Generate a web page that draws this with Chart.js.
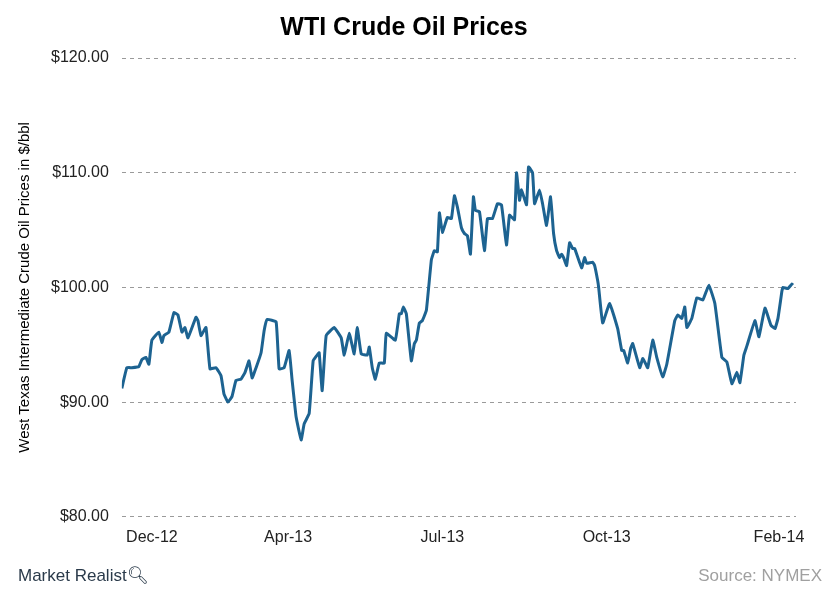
<!DOCTYPE html>
<html>
<head>
<meta charset="utf-8">
<script src="https://cdn.jsdelivr.net/npm/chart.js@4.4.1/dist/chart.umd.min.js"></script>
<style>
  body { margin: 0; background: #fff; font-family: "Liberation Sans", Arial, sans-serif; }
  #wrap { position: relative; width: 840px; height: 600px; }
  .foot-l { position: absolute; left: 18px; top: 565px; font-size: 17px; color: #2a3a4a; }
  .foot-r { position: absolute; right: 18px; top: 566px; font-size: 17px; color: #a0a0a0; }
</style>
</head>
<body>
<div id="wrap">
  <canvas id="c" width="840" height="600"></canvas>
  <div class="foot-l">Market Realist&#x1F50D;&#xFE0E;</div>
  <div class="foot-r">Source: NYMEX</div>
</div>
<script>
// time index (roughly trading-day position across Dec-12 .. Feb-14)
const timeIdx = [0,5,10,17,20,24,27,30,37,40,42,47,52,56,60,63,66,74,76,79,84,88,94,99,102,106,110,114,119,123,127,130,134,139,142,145,154,157,162,167,170,174,179,182,187,191,195,197,200,204,212,219,222,227,
  232,235,239,245,247,250,253,257,262,264,273,277,279,281,284,289,292,294,297,300,304,309,312,315,317,320,325,329,332,335,339,342,345,348,351,353,357,362,365,370,
  375,379,384,387,392,394,397,399,404,406,410,412,417,420,424,428,431,434,437,439,441,444,447,450,452,459,462,464,470,472,475,476,480,487,495,499,501,505,508,510,
  517,520,522,525,530,534,540,544,552,555,559,562,564,569,574,580,586,592,599,604,609,614,617,621,624,632,636,642,648,652,655,659,660,665,669,670,673];
const prices = [91.2,93.0,93.0,93.1,93.7,93.9,93.3,95.4,96.1,95.2,95.8,96.1,97.8,97.6,96.1,96.5,95.6,97.4,97.1,95.8,96.5,92.9,93.0,92.3,90.7,90.0,90.5,91.9,92.0,92.6,93.6,92.1,93.0,94.3,96.2,97.2,97.0,92.9,93.0,94.5,91.9,88.7,86.7,88.1,89.0,93.6,94.1,94.3,91.0,95.8,96.5,95.6,94.1,96.0,
  94.2,96.5,94.2,94.1,94.8,93.0,92.0,93.4,93.4,96.0,95.4,97.7,97.7,98.3,97.7,93.6,95.1,95.4,96.9,97.1,98.0,102.4,103.2,103.1,106.5,104.8,106.1,106.0,108.0,107.0,105.2,104.7,104.5,102.9,107.9,106.7,106.6,103.2,106.0,106.0,
  107.3,107.2,103.7,106.3,105.9,110.0,107.6,108.5,107.2,110.5,110.0,107.3,108.5,107.3,105.4,107.9,104.7,103.2,102.6,102.9,102.6,101.9,103.9,103.4,103.4,101.7,102.6,102.1,102.2,101.9,100.6,100.0,96.9,98.6,96.4,94.5,94.5,93.4,
  94.7,95.1,93.0,93.8,93.5,93.0,95.4,93.9,92.2,93.3,97.1,97.6,97.3,98.3,96.5,97.3,99.1,98.9,100.2,98.6,93.9,93.5,91.6,92.6,91.7,94.1,94.9,97.1,95.7,98.2,96.7,96.4,97.3,99.7,100.0,99.9,100.3,100.2];
const tickPos = [30, 166, 320, 484, 656];
const tickLabels = ["Dec-12", "Apr-13", "Jul-13", "Oct-13", "Feb-14"];
const yTicks = [80, 90, 100, 110, 120];

const points = timeIdx.map((t, i) => ({ x: t, y: prices[i] }));
const font = { family: "'Liberation Sans', Arial, sans-serif", size: 16 };

new Chart(document.getElementById("c"), {
  type: "line",
  data: { datasets: [{ data: points, borderColor: "#1d6391", borderWidth: 3, pointRadius: 0, tension: 0.1 }] },
  options: {
    responsive: false,
    animation: false,
    layout: { padding: { top: 13, right: 44, bottom: 50, left: 12 } },
    plugins: {
      legend: { display: false },
      title: { display: true, text: "WTI Crude Oil Prices", color: "#000",
        font: { family: font.family, size: 25, weight: "bold" }, padding: { top: 0, bottom: 15 } }
    },
    scales: {
      x: {
        type: "linear", min: 0, max: 673,
        afterBuildTicks: ax => { ax.ticks = tickPos.map(v => ({ value: v })); },
        ticks: { color: "#222", font, maxRotation: 0, autoSkip: false,
          callback: (v) => tickLabels[tickPos.indexOf(v)] },
        grid: { display: false },
        border: { display: false }
      },
      y: {
        min: 80, max: 120,
        afterBuildTicks: ax => { ax.ticks = yTicks.map(v => ({ value: v })); },
        ticks: { color: "#222", font, padding: 13, callback: v => "$" + v.toFixed(2) },
        grid: { color: "#9a9a9a", drawTicks: false },
        border: { display: false, dash: [4, 4] },
        title: { display: true, text: "West Texas Intermediate Crude Oil Prices in $/bbl", color: "#000",
          font: { family: font.family, size: 15 } }
      }
    }
  }
});
</script>
</body>
</html>
